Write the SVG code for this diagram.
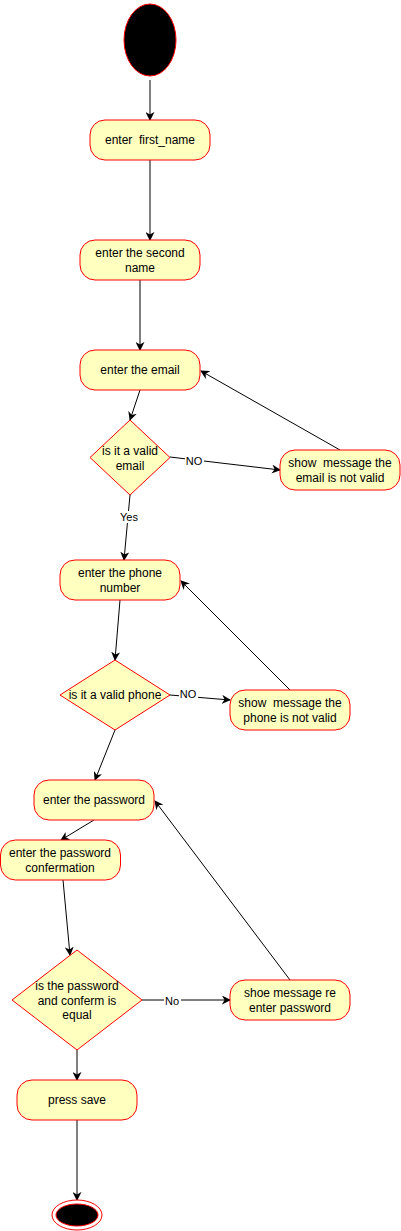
<svg xmlns="http://www.w3.org/2000/svg" width="401" height="1231" viewBox="0 0 401 1231">
<style>
.n{fill:#ffffc0;stroke:#ff0000;stroke-width:1}
.t{font-family:"Liberation Sans",Arial,sans-serif;font-size:12px;fill:#000;text-anchor:middle;white-space:pre}
.l{font-family:"Liberation Sans",Arial,sans-serif;font-size:11px;fill:#000;text-anchor:middle}
.e{stroke:#000;stroke-width:1;fill:none;marker-end:url(#a)}
.lb{fill:#fff}
</style>
<defs>
<marker id="a" viewBox="0 0 10 10" refX="9" refY="5" markerWidth="9" markerHeight="9" orient="auto" markerUnits="userSpaceOnUse">
<path d="M0,0 L10,5 L0,10 L3,5 Z" fill="#000"/>
</marker>
</defs>
<rect width="401" height="1231" fill="#fff"/>
<g id="connectors">
<path class="e" d="M150,80 L150,120"/>
<path class="e" d="M150,160 L150,240"/>
<path class="e" d="M140,280 L140,350"/>
<path class="e" d="M140,390 L130,420"/>
<path class="e" d="M170,457 L280,470"/>
<rect class="lb" x="185" y="455" width="19" height="12"/>
<text class="l" x="194" y="465">NO</text>
<path class="e" d="M340,450 L201,371"/>
<path class="e" d="M130,495 L124,560"/>
<rect class="lb" x="119" y="511" width="21" height="12"/>
<text class="l" x="129" y="521">Yes</text>
<path class="e" d="M120,600 L115,660"/>
<path class="e" d="M170,695 L230,700"/>
<rect class="lb" x="179" y="688" width="19" height="12"/>
<text class="l" x="188" y="698">NO</text>
<path class="e" d="M290,690 L181,581"/>
<path class="e" d="M115,730 L95,780"/>
<path class="e" d="M290,980 L155,801"/>
<path class="e" d="M94,820 L61,840"/>
<path class="e" d="M63,880 L70,955"/>
<path class="e" d="M142,1000 L230,1000"/>
<rect class="lb" x="164" y="994" width="17" height="12"/>
<text class="l" x="172" y="1005">No</text>
<path class="e" d="M77,1050 L77,1080"/>
<path class="e" d="M77,1120 L77,1200"/>
</g>
<g id="start"><ellipse cx="150" cy="40" rx="26" ry="36" fill="#000" stroke="#ff0000"/></g>
<g id="n1"><rect class="n" x="90" y="120" width="120" height="40" rx="15"/><text class="t" x="150" y="144" xml:space="preserve">enter  first_name</text></g>
<g id="n2"><rect class="n" x="80" y="240" width="120" height="40" rx="15"/><text class="t" x="140" y="257">enter the second</text><text class="t" x="140" y="272">name</text></g>
<g id="n3"><rect class="n" x="80" y="350" width="120" height="40" rx="15"/><text class="t" x="140" y="374">enter the email</text></g>
<g id="d1"><path class="n" d="M130,420 L170,457.5 L130,495 L90,457.5 Z"/><text class="t" x="130" y="455">is it a valid</text><text class="t" x="130" y="470">email</text></g>
<g id="n4"><rect class="n" x="280" y="450" width="120" height="40" rx="15"/><text class="t" x="340" y="467" xml:space="preserve">show  message the</text><text class="t" x="340" y="482">email is not valid</text></g>
<g id="n5"><rect class="n" x="60" y="560" width="120" height="40" rx="15"/><text class="t" x="120" y="577">enter the phone</text><text class="t" x="120" y="592">number</text></g>
<g id="d2"><path class="n" d="M115,660 L170,695 L115,730 L60,695 Z"/><text class="t" x="115" y="699">is it a valid phone</text></g>
<g id="n6"><rect class="n" x="230" y="690" width="120" height="40" rx="15"/><text class="t" x="290" y="707" xml:space="preserve">show  message the</text><text class="t" x="290" y="722">phone is not valid</text></g>
<g id="n7"><rect class="n" x="34" y="780" width="120" height="40" rx="15"/><text class="t" x="94" y="804">enter the password</text></g>
<g id="n8"><rect class="n" x="0.5" y="840" width="120" height="40" rx="15"/><text class="t" x="60" y="857">enter the password</text><text class="t" x="60" y="872">confermation</text></g>
<g id="d3"><path class="n" d="M77,950 L142,1000 L77,1050 L12,1000 Z"/><text class="t" x="77" y="990">is the password</text><text class="t" x="77" y="1005">and conferm is</text><text class="t" x="77" y="1019">equal</text></g>
<g id="n9"><rect class="n" x="230" y="980" width="120" height="40" rx="15"/><text class="t" x="290" y="997">shoe message re</text><text class="t" x="290" y="1012">enter password</text></g>
<g id="n10"><rect class="n" x="17" y="1080" width="120" height="40" rx="15"/><text class="t" x="77" y="1104">press save</text></g>
<g id="end"><ellipse cx="77" cy="1215" rx="25" ry="15" fill="#fff" stroke="#ff0000"/><ellipse cx="77" cy="1215" rx="21" ry="11" fill="#000" stroke="#ff0000"/></g>
</svg>
